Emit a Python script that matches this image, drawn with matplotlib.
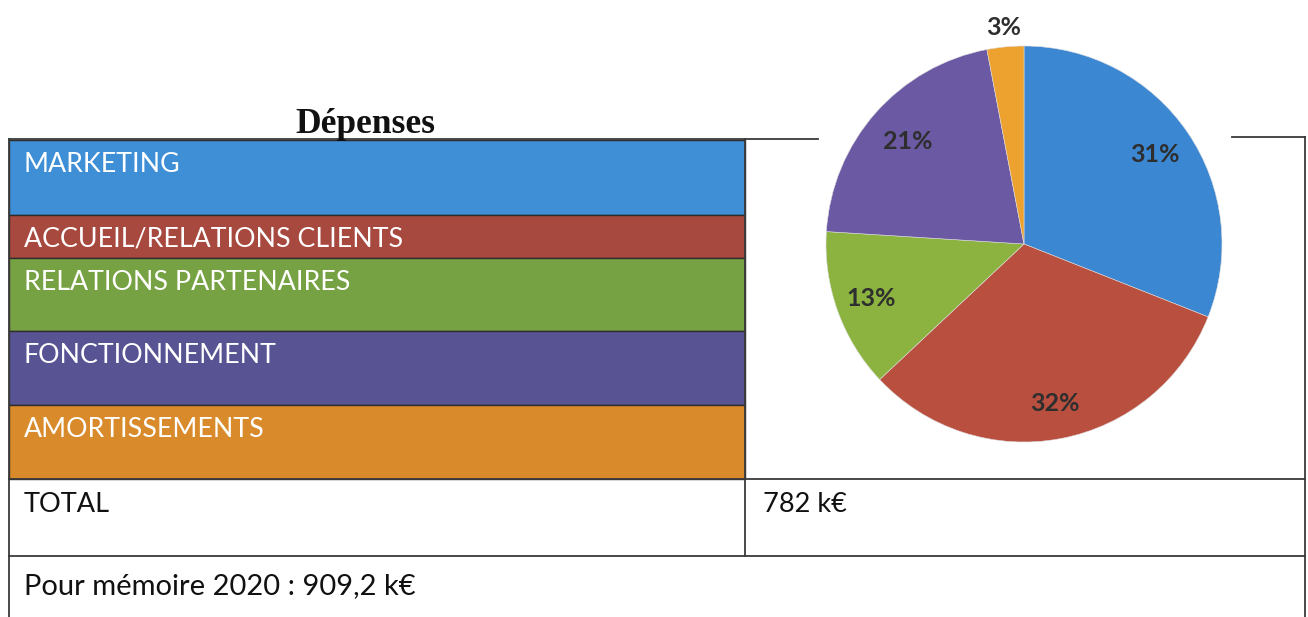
import matplotlib
matplotlib.use("Agg")
import matplotlib.pyplot as plt
from matplotlib.patches import Rectangle
import numpy as np

# ---- data ----
categories = ["MARKETING", "ACCUEIL/RELATIONS CLIENTS", "RELATIONS PARTENAIRES",
              "FONCTIONNEMENT", "AMORTISSEMENTS"]
shares = [31, 32, 13, 21, 3]
total_label = "TOTAL"
total_value = "782 k€"
memo_text = "Pour mémoire 2020 : 909,2 k€"
title = "Dépenses"

table_colors = ["#3f8fd6", "#a8493f", "#77a244", "#585494", "#d98b2b"]
pie_colors = ["#3b87d1", "#b9503f", "#8cb340", "#6b59a3", "#eda12f"]

W, H = 1308, 617
fig = plt.figure(figsize=(W / 100, H / 100), dpi=100)
fig.patch.set_facecolor("white")

ax = fig.add_axes([0, 0, 1, 1])
ax.set_xlim(0, W)
ax.set_ylim(H, 0)
ax.axis("off")

line_c = "#3a3a3a"
lw = 1.3
x_left, x_mid, x_right = 9, 745, 1305
row_tops = [140, 215, 258, 331, 405]
row_bot = 479
total_bot = 556

# colored rows
for i, (cat, col) in enumerate(zip(categories, table_colors)):
    top = row_tops[i]
    bot = row_tops[i + 1] if i + 1 < len(row_tops) else row_bot
    ax.add_patch(Rectangle((x_left, top), x_mid - x_left, bot - top,
                           facecolor=col, edgecolor="#2d2d2d", lw=1.0, zorder=1))
    ax.text(24, top + 32, cat, color="white", fontsize=19.3, family="Lato",
            va="baseline", ha="left", zorder=3)

# table lines
ax.plot([x_left, 818], [139, 139], color=line_c, lw=lw, zorder=2)
ax.plot([1232, x_right], [137, 137], color=line_c, lw=lw, zorder=2)
ax.plot([x_left, x_left], [139, H + 5], color=line_c, lw=lw, zorder=2)
ax.plot([x_mid, x_mid], [139, total_bot], color=line_c, lw=lw, zorder=2)
ax.plot([x_right, x_right], [137, H + 5], color=line_c, lw=lw, zorder=2)
ax.plot([x_left, x_right], [row_bot, row_bot], color=line_c, lw=lw, zorder=2)
ax.plot([x_left, x_right], [total_bot, total_bot], color=line_c, lw=lw, zorder=2)

ax.text(24, 512, total_label, color="#111111", fontsize=19.5, family="Lato",
        va="baseline", ha="left")
ax.text(763, 512, total_value, color="#111111", fontsize=19.5, family="Lato",
        va="baseline", ha="left")
ax.text(24, 594, memo_text, color="#111111", fontsize=21, family="Lato",
        va="baseline", ha="left")

ax.text(365, 133, title, color="#111111", fontsize=25.5, family="Liberation Serif",
        fontweight="bold", va="baseline", ha="center")

# ---- pie ----
cx, cy, r = 1024, 244, 198
pax = fig.add_axes([(cx - r) / W, (H - cy - r) / H, 2 * r / W, 2 * r / H])
wedges, _ = pax.pie(shares, colors=pie_colors, startangle=90, counterclock=False,
                    radius=1.0, wedgeprops=dict(linewidth=0.4, edgecolor="#dddddd"))
pax.set_xlim(-1, 1)
pax.set_ylim(-1, 1)
pax.set_aspect("equal")
pax.axis("off")

dists = [0.8, 0.82, 0.82, 0.78, 1.1]
for w, s, d in zip(wedges, shares, dists):
    ang = np.deg2rad((w.theta1 + w.theta2) / 2)
    pax.text(d * np.cos(ang), d * np.sin(ang), f"{s}%", ha="center", va="center",
             fontsize=18, family="Lato", fontweight="bold", color="#2e2e2e",
             clip_on=False)

fig.savefig("out.png", dpi=100, facecolor="white")
